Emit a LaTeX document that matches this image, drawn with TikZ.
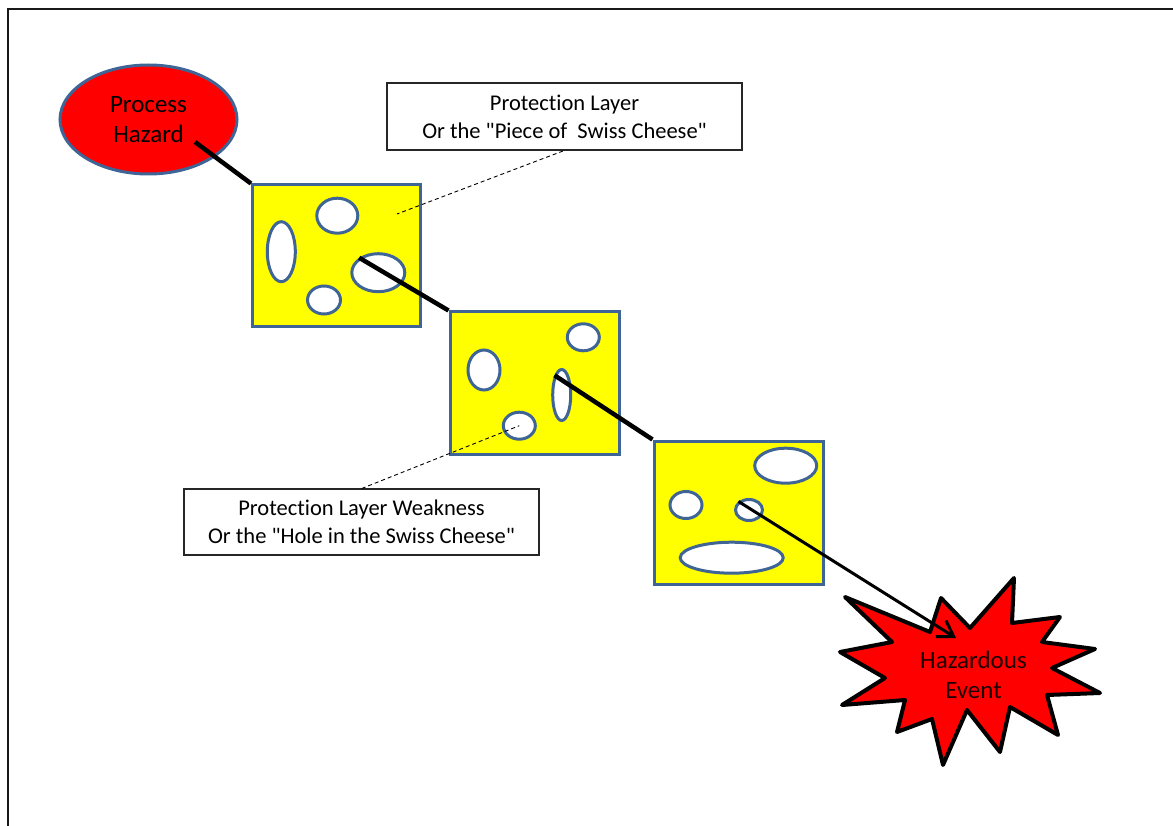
\documentclass[tikz,border=0pt]{standalone}
\usepackage{fontspec}
\setmainfont{Carlito}[Ligatures={CommonOff,TeXOff}]
\usetikzlibrary{shapes.geometric,arrows.meta}
\definecolor{edgeblue}{HTML}{3F6597}
\definecolor{hotred}{HTML}{FF0000}
\definecolor{cheese}{HTML}{FFFF00}
\newcommand{\sq}{\symbol{34}}
\begin{document}
\begin{tikzpicture}[x=1pt,y=-1pt,
  slab/.style={draw=edgeblue,fill=cheese,line width=3pt,minimum width=#1,minimum height=142pt,inner sep=0pt},
  hole/.style={ellipse,draw=edgeblue,fill=white,line width=3pt,inner sep=0pt},
  callout/.style={draw=black!85,fill=white,line width=1.1pt,minimum width=355pt,minimum height=67pt,
    inner sep=0pt,align=center,font=\fontsize{22.5}{27.8}\selectfont},
  link/.style={draw=black,line width=4.5pt},
  leader/.style={draw=black,line width=0.9pt,dash pattern=on 4pt off 3pt},
  bigtext/.style={align=center,font=\fontsize{25}{30.6}\selectfont}]
\useasboundingbox (0,0) rectangle (1173,826);

% page frame (only top and left edges fall inside the page)
\draw[black!90,line width=2pt] (7.5,826) -- (7.5,9.5) -- (1173,9.5);

% source of the hazard
\node[ellipse,draw=edgeblue,fill=hotred,line width=3pt,minimum width=177pt,minimum height=109pt,
  inner sep=0pt,bigtext] (phazard) at (148.5,119.5) {Process\\Hazard};
\coordinate (phstart) at (195,142);

% three protection layers with their holes
\node[slab=168pt] (cheeseA) at (336.5,256) {};
\node[hole,minimum width=28pt,minimum height=60pt] (ahole1) at (281.3,251.7) {};
\node[hole,minimum width=41pt,minimum height=35pt] (ahole2) at (337.3,215.7) {};
\node[hole,minimum width=53pt,minimum height=38pt] (ahole3) at (378.3,272.7) {};
\node[hole,minimum width=33pt,minimum height=28pt] (ahole4) at (324,300) {};

\node[slab=169pt] (cheeseB) at (534.5,383) {};
\node[hole,minimum width=32pt,minimum height=40pt] (bhole1) at (484,370) {};
\node[hole,minimum width=32pt,minimum height=27pt] (bhole2) at (583.3,337.3) {};
\node[hole,minimum width=18pt,minimum height=51pt] (bhole3) at (561.7,395) {};
\node[hole,minimum width=32pt,minimum height=27pt] (bhole4) at (519.3,425.7) {};

\node[slab=169pt,minimum height=143pt] (cheeseC) at (738.5,512.5) {};
\node[hole,minimum width=62pt,minimum height=35pt] (chole1) at (785.7,465.7) {};
\node[hole,minimum width=32pt,minimum height=27pt] (chole2) at (686,505) {};
\node[hole,minimum width=27pt,minimum height=21pt] (chole3) at (749,510) {};
\node[hole,minimum width=103pt,minimum height=31pt] (chole4) at (731.7,557.7) {};

% path of the hazard through the holes
\draw[link] (phstart) -- (cheeseA.north west);
\draw[link] (ahole3.142) -- (cheeseB.north west);
\draw[link] (bhole3.110) -- (cheeseC.north west);

% explanatory callouts
\node[callout] (layerlbl) at (564.5,116.5) {Protection Layer\\Or the \sq Piece of~ Swiss Cheese\sq};
\node[callout,minimum height=66pt] (weaklbl) at (361.5,522) {Protection Layer Weakness\\Or the \sq Hole in the Swiss Cheese\sq};
\coordinate (layerfoot) at (563,151);
\coordinate (layerpt) at (397,214);
\coordinate (weaktop) at (361.7,488.5);
\draw[leader] (layerfoot) -- (layerpt);
\draw[leader] (weaktop) -- (bhole4.center);

% the resulting event
\filldraw[fill=hotred,draw=black,line width=4pt,line join=round]
  (1014,578) -- (1012,623) -- (1060,617) -- (1042,642) -- (1095,649) -- (1052,668)
  -- (1100,693) -- (1047,695) -- (1058,735) -- (1010,707) -- (1000,752) -- (967,710)
  -- (943,765) -- (932,719) -- (897,732) -- (905,700) -- (842,705) -- (885,678)
  -- (840,652) -- (892,642) -- (845,597) -- (930,632) -- (941,598) -- (970,628) -- cycle;
\node[bigtext,text=black!88!hotred] (hazevent) at (973.5,675) {Hazardous\\Event};
\coordinate (eventtip) at (956,638);
\draw[black,line width=3pt,-{Straight Barb[length=15pt,width=19pt,line width=3pt]}] (chole3.141) -- (eventtip);
\end{tikzpicture}
\end{document}
